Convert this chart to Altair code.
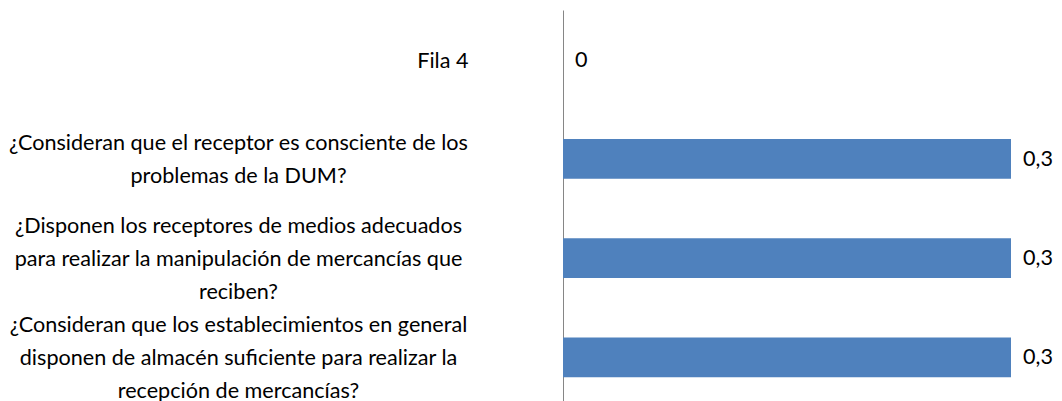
import altair as alt
import pandas as pd

categories = [
    "Fila 4",
    "¿Consideran que el receptor es consciente de los|problemas de la DUM?",
    "¿Disponen los receptores de medios adecuados|para realizar la manipulación de mercancías que|reciben?",
    "¿Consideran que los establecimientos en general|disponen de almacén suficiente para realizar la|recepción de mercancías?",
]
values = [0, 0.3, 0.3, 0.3]

df = pd.DataFrame({"pregunta": categories, "valor": values})

FONT = "Lato"
FS = 21.6
LH = 33

y_enc = alt.Y(
    "pregunta:N",
    sort=categories,
    scale=alt.Scale(paddingInner=0.6, paddingOuter=0.3),
    axis=alt.Axis(
        title=None,
        ticks=False,
        grid=False,
        domainColor="#868686",
        domainWidth=1,
        labelExpr="split(datum.label, '|')",
        labelAlign=alt.expr("datum.value == 'Fila 4' ? 'right' : 'center'"),
        labelPadding=alt.expr("datum.value == 'Fila 4' ? 95 : 325"),
        labelOffset=alt.expr(f"2 - (length(split(datum.value, '|')) - 1) * {LH / 2}"),
        labelLimit=1000,
        labelFont=FONT,
        labelFontSize=FS,
        labelLineHeight=LH,
        labelColor="#000000",
        labelBaseline="middle",
    ),
)

x_enc = alt.X("valor:Q", scale=alt.Scale(domain=[0, 0.3], nice=False, zero=True), axis=None)

bars = alt.Chart(df).mark_bar(color="#4F81BD").encode(x=x_enc, y=y_enc)

labels = (
    alt.Chart(df)
    .transform_calculate(txt="replace(format(datum.valor, '.1~f'), '.', ',')")
    .mark_text(align="left", baseline="middle", dx=12, dy=1, font=FONT, fontSize=FS, color="#000000")
    .encode(x=x_enc, y=y_enc, text="txt:N")
)

chart = (
    alt.layer(bars, labels)
    .properties(
        width=448,
        height=397,
        autosize=alt.AutoSizeParams(type="none"),
        padding={"left": 555, "top": 2, "right": 43, "bottom": 12},
    )
    .configure(background="white", view=alt.ViewConfig(stroke="transparent"))
)

chart.save("out.html", embed_options={"renderer": "svg", "actions": False})
